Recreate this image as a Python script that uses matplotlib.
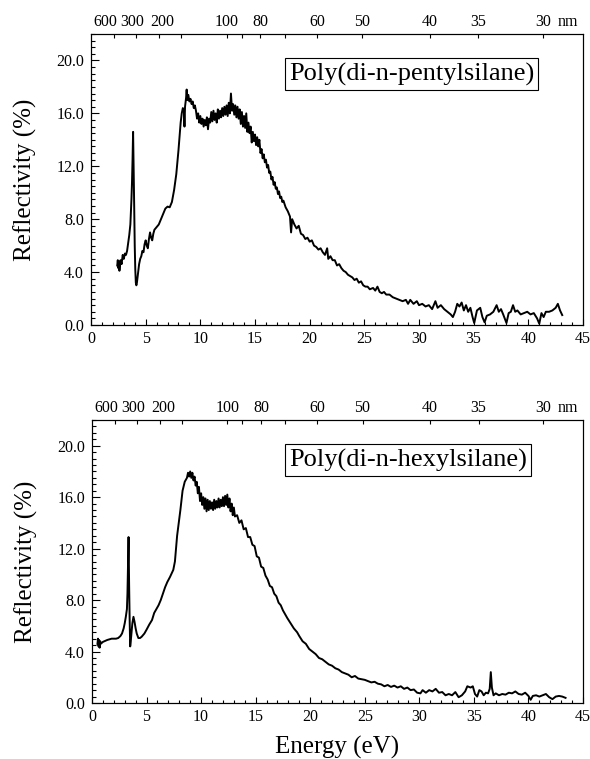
import matplotlib
matplotlib.use('Agg')
import matplotlib.pyplot as plt
import numpy as np
from matplotlib.ticker import MultipleLocator, FormatStrFormatter
from matplotlib.transforms import ScaledTranslation

plt.rcParams['font.family'] = ['Liberation Serif', 'DejaVu Serif']

# reflectivity spectra: [energy (eV), reflectivity (%)]
pentyl = np.array([
    [2.40, 4.5], [2.45, 4.9], [2.50, 4.3], [2.55, 4.8], [2.60, 4.1], [2.70, 4.9],
    [2.80, 4.6], [2.90, 5.3], [3.00, 5.0], [3.10, 5.4], [3.20, 5.3], [3.30, 5.6],
    [3.40, 6.2], [3.50, 6.8], [3.60, 7.6], [3.70, 9.5], [3.75, 10.8], [3.80, 12.5],
    [3.85, 14.6], [3.90, 12.0], [3.95, 9.0], [4.00, 6.0], [4.05, 4.2], [4.10, 3.2],
    [4.15, 3.0], [4.20, 3.2], [4.30, 3.9], [4.40, 4.6], [4.50, 5.0], [4.60, 5.2],
    [4.70, 5.6], [4.80, 5.5], [4.90, 6.1], [5.00, 6.4], [5.10, 6.0], [5.20, 5.8],
    [5.30, 6.5], [5.40, 7.0], [5.50, 6.6], [5.60, 6.4], [5.70, 6.9], [5.80, 7.2],
    [6.00, 7.4], [6.20, 7.6], [6.40, 8.0], [6.60, 8.4], [6.80, 8.8], [7.00, 8.95],
    [7.20, 8.9], [7.40, 9.3], [7.60, 10.2], [7.80, 11.4], [8.00, 13.2], [8.10, 14.2],
    [8.20, 15.3], [8.30, 16.0], [8.40, 16.4], [8.50, 16.2], [8.55, 15.0], [8.60, 16.5],
    [8.70, 17.2], [8.75, 17.8], [8.80, 17.0], [8.90, 17.4], [9.00, 16.9], [9.10, 17.1],
    [9.20, 16.7], [9.30, 16.9], [9.40, 16.4], [9.50, 16.6], [9.60, 16.2], [9.70, 15.6],
    [9.80, 16.0], [9.90, 15.3], [10.0, 15.8], [10.1, 15.2], [10.2, 15.6], [10.3, 15.0],
    [10.4, 15.5], [10.5, 15.1], [10.6, 15.7], [10.7, 14.8], [10.8, 15.6], [10.9, 15.3],
    [11.0, 16.1], [11.1, 15.4], [11.2, 16.2], [11.3, 15.5], [11.4, 16.0], [11.5, 15.3],
    [11.6, 16.3], [11.7, 15.6], [11.8, 16.2], [11.9, 15.7], [12.0, 16.4], [12.1, 15.8],
    [12.2, 16.5], [12.3, 15.9], [12.4, 16.6], [12.5, 15.8], [12.6, 16.8], [12.7, 16.0],
    [12.8, 17.5], [12.9, 16.2], [13.0, 16.7], [13.1, 15.9], [13.2, 16.6], [13.3, 15.7],
    [13.4, 16.5], [13.5, 15.6], [13.6, 16.3], [13.7, 15.2], [13.8, 16.1], [13.9, 15.0],
    [14.0, 15.8], [14.1, 14.9], [14.2, 16.0], [14.3, 14.6], [14.4, 15.3], [14.5, 14.5],
    [14.6, 15.0], [14.7, 13.8], [14.8, 14.6], [14.9, 13.9], [15.0, 14.4], [15.1, 13.6],
    [15.2, 14.2], [15.3, 13.5], [15.4, 14.0], [15.5, 13.0], [15.6, 13.3], [15.7, 12.6],
    [15.8, 12.9], [15.9, 12.3], [16.0, 12.5], [16.1, 11.9], [16.2, 12.1], [16.3, 11.5],
    [16.4, 11.6], [16.5, 11.0], [16.6, 11.2], [16.7, 10.6], [16.8, 10.8], [16.9, 10.3],
    [17.0, 10.4], [17.1, 9.9], [17.2, 10.1], [17.3, 9.6], [17.4, 9.7], [17.5, 9.3],
    [17.6, 9.4], [17.8, 8.9], [18.0, 8.6], [18.2, 8.2], [18.3, 7.0], [18.4, 8.0],
    [18.6, 7.6], [18.8, 7.3],
    [19.0, 7.5], [19.2, 6.9], [19.4, 6.8], [19.6, 6.5], [19.8, 6.6], [20.0, 6.3],
    [20.2, 6.4], [20.4, 6.0], [20.6, 5.9], [20.8, 5.7], [21.0, 5.8], [21.2, 5.5],
    [21.4, 5.3], [21.6, 5.8], [21.7, 5.0], [21.9, 5.2], [22.1, 4.9], [22.3, 4.9],
    [22.5, 4.5], [22.7, 4.6], [22.9, 4.3], [23.1, 4.1], [23.3, 4.0], [23.5, 3.8],
    [23.7, 3.7], [23.9, 3.6], [24.1, 3.4], [24.3, 3.5], [24.5, 3.2], [24.7, 3.3],
    [24.9, 3.0], [25.1, 2.9], [25.3, 2.9], [25.5, 2.7], [25.8, 2.8], [26.0, 2.6],
    [26.2, 2.9], [26.4, 2.5], [26.6, 2.4], [26.8, 2.5], [27.0, 2.3], [27.3, 2.3],
    [27.6, 2.1], [27.9, 2.0], [28.2, 1.9], [28.5, 1.8], [28.8, 1.9], [29.0, 1.6],
    [29.2, 1.9], [29.5, 1.6], [29.8, 1.8], [30.0, 1.5], [30.3, 1.6], [30.6, 1.4],
    [30.9, 1.5], [31.2, 1.2], [31.5, 1.8], [31.7, 1.3], [32.0, 1.5], [32.3, 1.2],
    [32.6, 1.0], [32.9, 0.8], [33.1, 0.6], [33.3, 1.0], [33.5, 1.6], [33.7, 1.4],
    [33.9, 1.7], [34.1, 1.1], [34.3, 1.5], [34.5, 1.0], [34.7, 1.3], [34.9, 0.6],
    [35.05, 0.15], [35.3, 1.1], [35.6, 1.3], [35.8, 0.6], [36.0, 0.2], [36.2, 0.7],
    [36.5, 0.8], [36.8, 1.0], [37.1, 1.5], [37.3, 1.0], [37.5, 1.2], [37.7, 0.8],
    [38.0, 0.15], [38.2, 0.9], [38.4, 1.0], [38.6, 1.5], [38.8, 1.0], [39.0, 1.1],
    [39.3, 0.8], [39.6, 0.9], [39.9, 1.0], [40.2, 0.8], [40.5, 0.9], [40.8, 0.5],
    [41.0, 0.1], [41.2, 0.9], [41.4, 0.6], [41.6, 1.0], [41.9, 1.0], [42.2, 1.1],
    [42.5, 1.3], [42.7, 1.6], [42.9, 1.1], [43.1, 0.75],
])

hexyl = np.array([
    [0.50, 4.6], [0.55, 5.0], [0.60, 4.4], [0.65, 4.9], [0.70, 4.3], [0.75, 4.8],
    [0.80, 4.6], [1.00, 4.75], [1.40, 4.9], [1.80, 5.0], [2.20, 5.0], [2.40, 5.05],
    [2.60, 5.2], [2.75, 5.4], [2.90, 5.8], [3.00, 6.2], [3.10, 6.7], [3.20, 7.3],
    [3.25, 8.5], [3.30, 10.5], [3.35, 12.9], [3.40, 9.3], [3.45, 6.5], [3.50, 4.4],
    [3.55, 4.8], [3.60, 5.3], [3.70, 6.2], [3.80, 6.7], [3.90, 6.3], [4.00, 5.8],
    [4.10, 5.4], [4.25, 5.05], [4.40, 5.05], [4.55, 5.15], [4.80, 5.4], [5.00, 5.7],
    [5.25, 6.1], [5.50, 6.45], [5.70, 7.0], [5.90, 7.3], [6.10, 7.6], [6.30, 8.0],
    [6.50, 8.5], [6.70, 9.0], [6.90, 9.4], [7.15, 9.8], [7.45, 10.35], [7.60, 11.0],
    [7.80, 13.0], [8.00, 14.3], [8.10, 15.0], [8.30, 16.5], [8.50, 17.2], [8.70, 17.5],
    [8.80, 17.9], [8.90, 17.6], [9.00, 18.0], [9.10, 17.5], [9.20, 17.9], [9.30, 17.3],
    [9.40, 17.6], [9.50, 16.9], [9.60, 17.2], [9.70, 16.3], [9.80, 16.8], [9.90, 15.7],
    [10.0, 16.3], [10.1, 15.4], [10.2, 16.0], [10.3, 15.1], [10.4, 15.9], [10.5, 14.9],
    [10.6, 15.8], [10.7, 15.0], [10.8, 15.7], [10.9, 15.1], [11.0, 15.6], [11.1, 15.0],
    [11.2, 15.8], [11.3, 15.1], [11.4, 15.7], [11.5, 15.2], [11.6, 15.9], [11.7, 15.2],
    [11.8, 15.8], [11.9, 15.3], [12.0, 16.0], [12.1, 15.3], [12.2, 16.1], [12.3, 15.4],
    [12.4, 16.2], [12.5, 15.2], [12.6, 15.9], [12.7, 14.9], [12.8, 15.5], [12.9, 14.6],
    [13.0, 15.2], [13.1, 14.5], [13.3, 14.6], [13.5, 14.0], [13.7, 14.2], [13.9, 13.5],
    [14.1, 13.6], [14.3, 12.9], [14.5, 12.9], [14.7, 12.3], [14.9, 12.2], [15.1, 11.4],
    [15.3, 11.3], [15.5, 10.6], [15.7, 10.5], [15.9, 9.9], [16.1, 9.6], [16.3, 9.1],
    [16.5, 9.0], [16.7, 8.5], [16.9, 8.3], [17.1, 7.8], [17.3, 7.6], [17.5, 7.2],
    [17.7, 6.9], [17.9, 6.6], [18.2, 6.2], [18.5, 5.8], [18.8, 5.5], [19.0, 5.2],
    [19.3, 4.8], [19.6, 4.6], [19.9, 4.2], [20.2, 4.0], [20.5, 3.8], [20.8, 3.5],
    [21.1, 3.4], [21.4, 3.2], [21.7, 3.0], [22.0, 2.9], [22.3, 2.7], [22.6, 2.6],
    [22.9, 2.4], [23.2, 2.3], [23.5, 2.2], [23.8, 2.0], [24.1, 2.1], [24.4, 1.9],
    [24.7, 1.85], [25.0, 1.8], [25.3, 1.7], [25.6, 1.6], [25.9, 1.65], [26.2, 1.5],
    [26.5, 1.45], [26.8, 1.3], [27.1, 1.4], [27.4, 1.25], [27.7, 1.35], [28.0, 1.2],
    [28.3, 1.3], [28.6, 1.1], [28.9, 1.2], [29.2, 1.0], [29.5, 1.05], [29.8, 0.8],
    [30.1, 0.75], [30.3, 1.0], [30.6, 0.8], [30.9, 1.0], [31.2, 0.9], [31.5, 1.1],
    [31.8, 0.8], [32.1, 0.85], [32.4, 0.6], [32.7, 0.7], [33.0, 0.6], [33.3, 0.85],
    [33.6, 0.45], [33.9, 0.6], [34.2, 0.9], [34.4, 1.3], [34.7, 1.2], [34.9, 1.3],
    [35.1, 0.7], [35.3, 0.5], [35.5, 1.0], [35.7, 0.9], [35.9, 0.6], [36.1, 0.8],
    [36.3, 0.75], [36.45, 1.1], [36.55, 2.4], [36.65, 1.2], [36.8, 0.6], [37.0, 0.75],
    [37.3, 0.6], [37.6, 0.7], [37.9, 0.65], [38.2, 0.8], [38.5, 0.75], [38.8, 0.9],
    [39.1, 0.7], [39.4, 0.65], [39.7, 0.8], [40.0, 0.55], [40.2, 0.25], [40.4, 0.55],
    [40.7, 0.6], [41.0, 0.5], [41.3, 0.6], [41.6, 0.7], [41.9, 0.45], [42.2, 0.3],
    [42.5, 0.5], [42.8, 0.55], [43.1, 0.5], [43.4, 0.4],
])

# wavelength scale on the top axis
nm_ticks = [600, 300, 200, 150, 100, 90, 80, 70, 60, 50, 40, 35, 30]
nm_labels = ['600', '300', '200', '', '100', '', '80', '', '60', '50', '40', '35', '30']
# horizontal nudges (px) of the crowded labels, as in the original
nm_label_shift = [-8.6, -3.7, 3.7, 0, 0, 0, 0, 0, 0, 0, 0, 0, 0]
HC = 1239.84

W, H = 590, 759
DPI = 100


def draw_panel(fig, rect, data, name):
    ax = fig.add_axes(rect)
    ax.plot(data[:, 0], data[:, 1], color='black', lw=1.4)
    ax.set_xlim(0, 45)
    ax.set_ylim(0, 22)
    ax.xaxis.set_major_locator(MultipleLocator(5))
    ax.xaxis.set_minor_locator(MultipleLocator(1))
    ax.yaxis.set_major_locator(MultipleLocator(4))
    ax.yaxis.set_minor_locator(MultipleLocator(0.5))
    ax.yaxis.set_major_formatter(FormatStrFormatter('%.1f'))
    ax.tick_params(which='both', direction='in', top=False, right=False,
                   labelsize=11.5, width=0.8)
    ax.tick_params(axis='y', which='major', length=6, pad=5)
    ax.tick_params(axis='y', which='minor', length=3)
    ax.tick_params(axis='x', which='major', length=4.5, pad=4)
    ax.tick_params(axis='x', which='minor', length=2.5)
    for s in ax.spines.values():
        s.set_linewidth(0.8)
    ax.set_ylabel('Reflectivity (%)', fontsize=18)
    ax.yaxis.set_label_coords(-0.11, 0.5)

    top = ax.twiny()
    top.set_xlim(ax.get_xlim())
    top.set_xticks([HC / w for w in nm_ticks])
    top.set_xticklabels(nm_labels)
    top.tick_params(axis='x', direction='in', length=3, width=0.8,
                    labelsize=11.5, pad=3)
    for lab, dx in zip(top.get_xticklabels(), nm_label_shift):
        lab.set_transform(lab.get_transform() +
                          ScaledTranslation(dx / DPI, 0, fig.dpi_scale_trans))
    top.annotate('nm', xy=(0.9695, 1), xycoords='axes fraction',
                 xytext=(0, 3), textcoords='offset points',
                 ha='center', va='bottom', fontsize=11.5)

    ax.text(0.402, 1 - 40 / (rect[3] * H), name, transform=ax.transAxes,
            ha='left', va='center', fontsize=19,
            bbox=dict(boxstyle='square,pad=0.15', fc='white', ec='black', lw=0.8))
    return ax


fig = plt.figure(figsize=(W / DPI, H / DPI), dpi=DPI)
draw_panel(fig, [91 / W, 1 - 325 / H, 492 / W, 291 / H], pentyl,
           'Poly(di-n-pentylsilane)')
ax2 = draw_panel(fig, [92 / W, 1 - 703 / H, 491 / W, 283 / H], hexyl,
                 'Poly(di-n-hexylsilane)')
ax2.set_xlabel('Energy (eV)', fontsize=18, labelpad=8)

fig.savefig('out.png', dpi=DPI)
